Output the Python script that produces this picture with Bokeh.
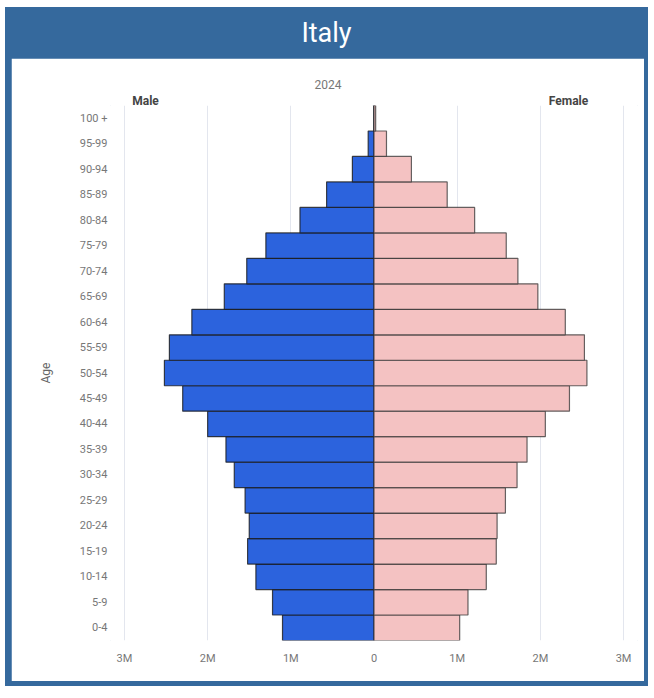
from bokeh.plotting import figure
from bokeh.models import (ColumnDataSource, FactorRange, Range1d, FixedTicker,
                          LinearAxis, Title, Div)
from bokeh.layouts import column
from bokeh.embed import file_html
from bokeh.resources import INLINE

# ---- data (millions of people) ----
ages = ["0-4", "5-9", "10-14", "15-19", "20-24", "25-29", "30-34", "35-39",
        "40-44", "45-49", "50-54", "55-59", "60-64", "65-69", "70-74",
        "75-79", "80-84", "85-89", "90-94", "95-99", "100 +"]
male = [1.10, 1.22, 1.42, 1.52, 1.50, 1.55, 1.68, 1.78, 2.00, 2.30, 2.52,
        2.46, 2.19, 1.80, 1.53, 1.30, 0.89, 0.57, 0.26, 0.07, 0.004]
female = [1.03, 1.13, 1.35, 1.47, 1.48, 1.58, 1.72, 1.84, 2.06, 2.35, 2.56,
          2.53, 2.30, 1.97, 1.73, 1.59, 1.21, 0.88, 0.45, 0.15, 0.02]
x_ticks = [-3e6, -2e6, -1e6, 0, 1e6, 2e6, 3e6]
x_tick_labels = ["3M", "2M", "1M", "0", "1M", "2M", "3M"]
side_labels = ["Male", "Female"]
side_label_x = [-2.747e6, 2.339e6]
country = "Italy"
year = "2024"

BLUE = "#35699d"
MALE_C = "#2c63dd"
FEMALE_C = "#f4c2c2"

src = ColumnDataSource(dict(
    age=ages,
    male=[-v * 1e6 for v in male],
    female=[v * 1e6 for v in female],
))

p = figure(width=633, height=623, output_backend="svg", toolbar_location=None,
           y_range=FactorRange(factors=ages, range_padding=0),
           x_range=Range1d(-3.168e6, 3.168e6),
           min_border_left=99, min_border_right=7, min_border_top=47,
           min_border_bottom=41, background_fill_color="white",
           border_fill_color="white")
p.margin = (0, 4, 5, 6)
p.outline_line_color = "white"
p.outline_line_width = 1

p.hbar(y="age", left=0, right="male", height=1.0, source=src,
       fill_color=MALE_C, line_color="#1a1a1a", line_alpha=0.8, line_width=1.2)
p.hbar(y="age", left=0, right="female", height=1.0, source=src,
       fill_color=FEMALE_C, line_color="#333333", line_alpha=0.75, line_width=1.2)

# axes
p.xaxis.ticker = FixedTicker(ticks=x_ticks)
p.xaxis.major_label_overrides = {t: l for t, l in zip(x_ticks, x_tick_labels)}
for ax in (p.xaxis, p.yaxis):
    ax.axis_line_color = None
    ax.major_tick_line_color = None
    ax.minor_tick_line_color = None
    ax.major_tick_out = 0
    ax.major_tick_in = 0
    ax.major_label_text_font = "Roboto"
    ax.major_label_text_font_size = "11px"
    ax.major_label_text_color = "#777777"
p.xaxis.major_label_standoff = 11
p.yaxis.major_label_standoff = 3
p.yaxis.axis_label = "Age"
p.yaxis.axis_label_text_font = "Roboto"
p.yaxis.axis_label_text_font_style = "normal"
p.yaxis.axis_label_text_font_size = "12px"
p.yaxis.axis_label_text_color = "#666666"
p.yaxis.axis_label_standoff = 24

# Male / Female captions on an axis above the frame
top_ax = LinearAxis(ticker=FixedTicker(ticks=side_label_x),
                    major_label_overrides={t: l for t, l in zip(side_label_x, side_labels)},
                    axis_line_color=None, major_tick_line_color=None,
                    minor_tick_line_color=None, major_tick_in=0, major_tick_out=0,
                    major_label_standoff=-2, major_label_text_font="Roboto",
                    major_label_text_font_size="12px",
                    major_label_text_font_style="bold",
                    major_label_text_color="#444444")
p.add_layout(top_ax, "above")

# year title
p.add_layout(Title(text=year, align="left", offset=204, standoff=4,
                   text_font="Roboto", text_font_size="12px",
                   text_font_style="normal", text_color="#777777"), "above")

p.xgrid.grid_line_color = "#e3e6ee"
p.xgrid.grid_line_width = 1
p.ygrid.grid_line_color = None

title = Div(text=('<div style="width:643px;height:51px;line-height:53px;'
                  'text-align:center;color:white;font-family:Roboto;'
                  f'font-size:27px;">{country}</div>'),
            width=643, height=51, margin=(0, 0, 0, 0))

layout = column(title, p, margin=(7, 0, 0, 5),
                styles={"background-color": BLUE})

open("out.html", "w").write(file_html(layout, INLINE))
